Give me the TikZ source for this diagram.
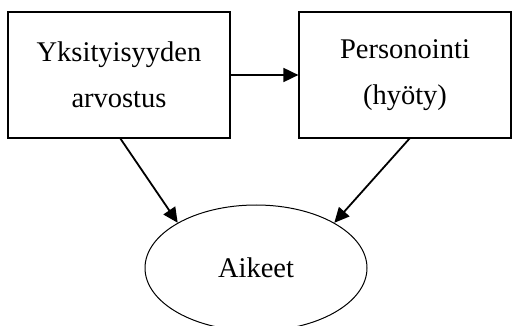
\documentclass[tikz,border=0pt]{standalone}
\usepackage{fontspec}
\setmainfont{Liberation Serif}
\usetikzlibrary{shapes.geometric,arrows.meta}
\begin{document}
\begin{tikzpicture}[x=1pt,y=-1pt,
  every node/.style={font=\fontsize{28.5}{46}\selectfont},
  box/.style={draw,line width=1.2pt,minimum width=222pt,minimum height=126pt,align=center},
  goal/.style={draw,ellipse,line width=1pt,minimum width=222pt,minimum height=126pt},
  link/.style={line width=1.8pt,-{Triangle[length=15pt,width=14pt]}}]
  \useasboundingbox (0,0) rectangle (517,326);
  \clip (0,0) rectangle (517,326);
  \node[box] (priv) at (119,75) {Yksityisyyden\\arvostus};
  \node[box,minimum width=212pt] (pers) at (405,75) {Personointi\\(hyöty)};
  \node[goal] (aik) at (256,268) {Aikeet};
  % connectors between the three concepts
  \draw[link] (priv.east) -- (pers.west);
  \coordinate (pa) at (120,138);
  \coordinate (pb) at (410,138);
  \draw[link] (pa) -- (aik.150);
  \draw[link] (pb) -- (aik.30);
\end{tikzpicture}
\end{document}
